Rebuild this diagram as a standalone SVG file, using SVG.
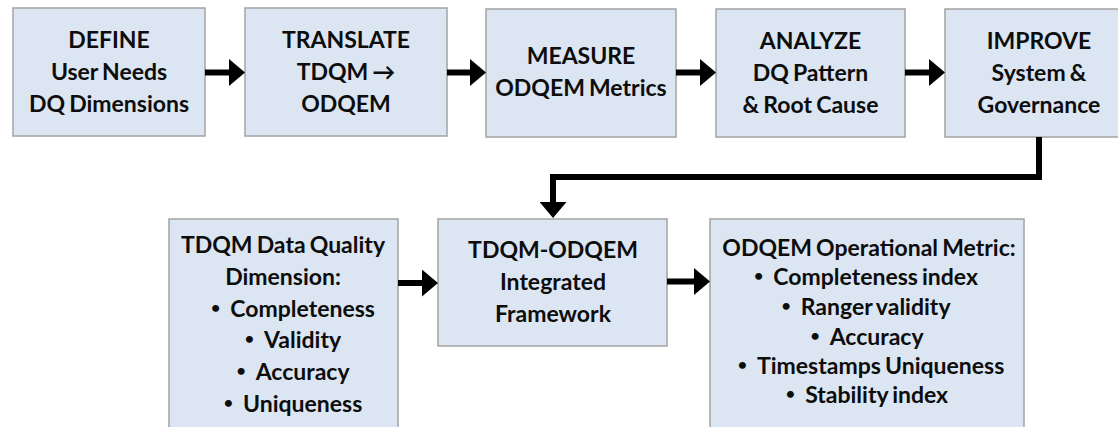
<svg xmlns="http://www.w3.org/2000/svg" width="1118" height="427" viewBox="0 0 1118 427">
  <style>
    .box { fill: #dce6f2; stroke: #a3a3a3; stroke-width: 1.5; }
    .lbl { font-family: Lato, "Open Sans", "Liberation Sans", sans-serif; font-weight: 700; font-size: 23px; fill: #0d0d0d; text-anchor: middle; word-spacing: -1.5px; }
    .bul { font-size: 16px; }
    .conn { fill: none; stroke: #000; stroke-width: 6; }
  </style>
  <defs>
    <marker id="head" markerUnits="userSpaceOnUse" markerWidth="16" markerHeight="27" refX="6" refY="13.5" orient="auto">
      <path d="M0,0 L16,13.5 L0,27 Z" fill="#000"/>
    </marker>
  </defs>
  <rect width="1118" height="427" fill="#fff"/>

  <g id="define">
    <rect class="box" x="13" y="8" width="192" height="128"/>
    <text class="lbl" x="109" y="48">DEFINE</text>
    <text class="lbl" x="109" y="80">User Needs</text>
    <text class="lbl" x="109" y="112">DQ Dimensions</text>
  </g>
  <g id="translate">
    <rect class="box" x="245" y="8" width="202" height="128"/>
    <text class="lbl" x="346" y="48">TRANSLATE</text>
    <text class="lbl" x="346" y="80">TDQM →</text>
    <text class="lbl" x="346" y="112">ODQEM</text>
  </g>
  <g id="measure">
    <rect class="box" x="486" y="9" width="190" height="128"/>
    <text class="lbl" x="581" y="64">MEASURE</text>
    <text class="lbl" x="581" y="96">ODQEM Metrics</text>
  </g>
  <g id="analyze">
    <rect class="box" x="716" y="9" width="189" height="128"/>
    <text class="lbl" x="810.5" y="49">ANALYZE</text>
    <text class="lbl" x="810.5" y="81">DQ Pattern</text>
    <text class="lbl" x="810.5" y="113">&amp; Root Cause</text>
  </g>
  <g id="improve">
    <rect class="box" x="945" y="9" width="190" height="128"/>
    <text class="lbl" x="1039" y="49">IMPROVE</text>
    <text class="lbl" x="1039" y="81">System &amp;</text>
    <text class="lbl" x="1039" y="113">Governance</text>
  </g>

  <g id="tdqm-dimensions">
    <rect class="box" x="169" y="219" width="229" height="220"/>
    <text class="lbl" x="283" y="253">TDQM Data Quality</text>
    <text class="lbl" x="283" y="285">Dimension:</text>
    <text class="lbl" x="293" y="317"><tspan class="bul" dy="-4">•</tspan><tspan dx="10" dy="4">Completeness</tspan></text>
    <text class="lbl" x="293" y="348"><tspan class="bul" dy="-4">•</tspan><tspan dx="10" dy="4">Validity</tspan></text>
    <text class="lbl" x="293" y="380"><tspan class="bul" dy="-4">•</tspan><tspan dx="10" dy="4">Accuracy</tspan></text>
    <text class="lbl" x="293" y="412"><tspan class="bul" dy="-4">•</tspan><tspan dx="10" dy="4">Uniqueness</tspan></text>
  </g>
  <g id="framework">
    <rect class="box" x="438" y="219" width="229" height="127"/>
    <text class="lbl" x="553" y="258">TDQM-ODQEM</text>
    <text class="lbl" x="553" y="290">Integrated</text>
    <text class="lbl" x="553" y="322">Framework</text>
  </g>
  <g id="odqem-metrics">
    <rect class="box" x="710" y="219" width="314" height="220"/>
    <text class="lbl" x="869" y="256">ODQEM Operational Metric:</text>
    <text class="lbl" x="866" y="285"><tspan class="bul" dy="-4">•</tspan><tspan dx="10" dy="4">Completeness index</tspan></text>
    <text class="lbl" x="866" y="315"><tspan class="bul" dy="-4">•</tspan><tspan dx="10" dy="4">Ranger validity</tspan></text>
    <text class="lbl" x="867" y="345"><tspan class="bul" dy="-4">•</tspan><tspan dx="10" dy="4">Accuracy</tspan></text>
    <text class="lbl" x="871" y="374"><tspan class="bul" dy="-4">•</tspan><tspan dx="10" dy="4">Timestamps Uniqueness</tspan></text>
    <text class="lbl" x="867" y="403"><tspan class="bul" dy="-4">•</tspan><tspan dx="10" dy="4">Stability index</tspan></text>
  </g>

  <g id="connectors">
    <line class="conn" x1="205" y1="72.5" x2="235" y2="72.5" marker-end="url(#head)"/>
    <line class="conn" x1="447" y1="72.5" x2="476" y2="72.5" marker-end="url(#head)"/>
    <line class="conn" x1="676" y1="72.5" x2="706" y2="72.5" marker-end="url(#head)"/>
    <line class="conn" x1="905" y1="72.5" x2="935" y2="72.5" marker-end="url(#head)"/>
    <polyline class="conn" points="1039,137 1039,177 553,177 553,208" marker-end="url(#head)"/>
    <line class="conn" x1="398" y1="283" x2="428" y2="283" marker-end="url(#head)"/>
    <line class="conn" x1="667" y1="281.5" x2="700" y2="281.5" marker-end="url(#head)"/>
  </g>
</svg>
